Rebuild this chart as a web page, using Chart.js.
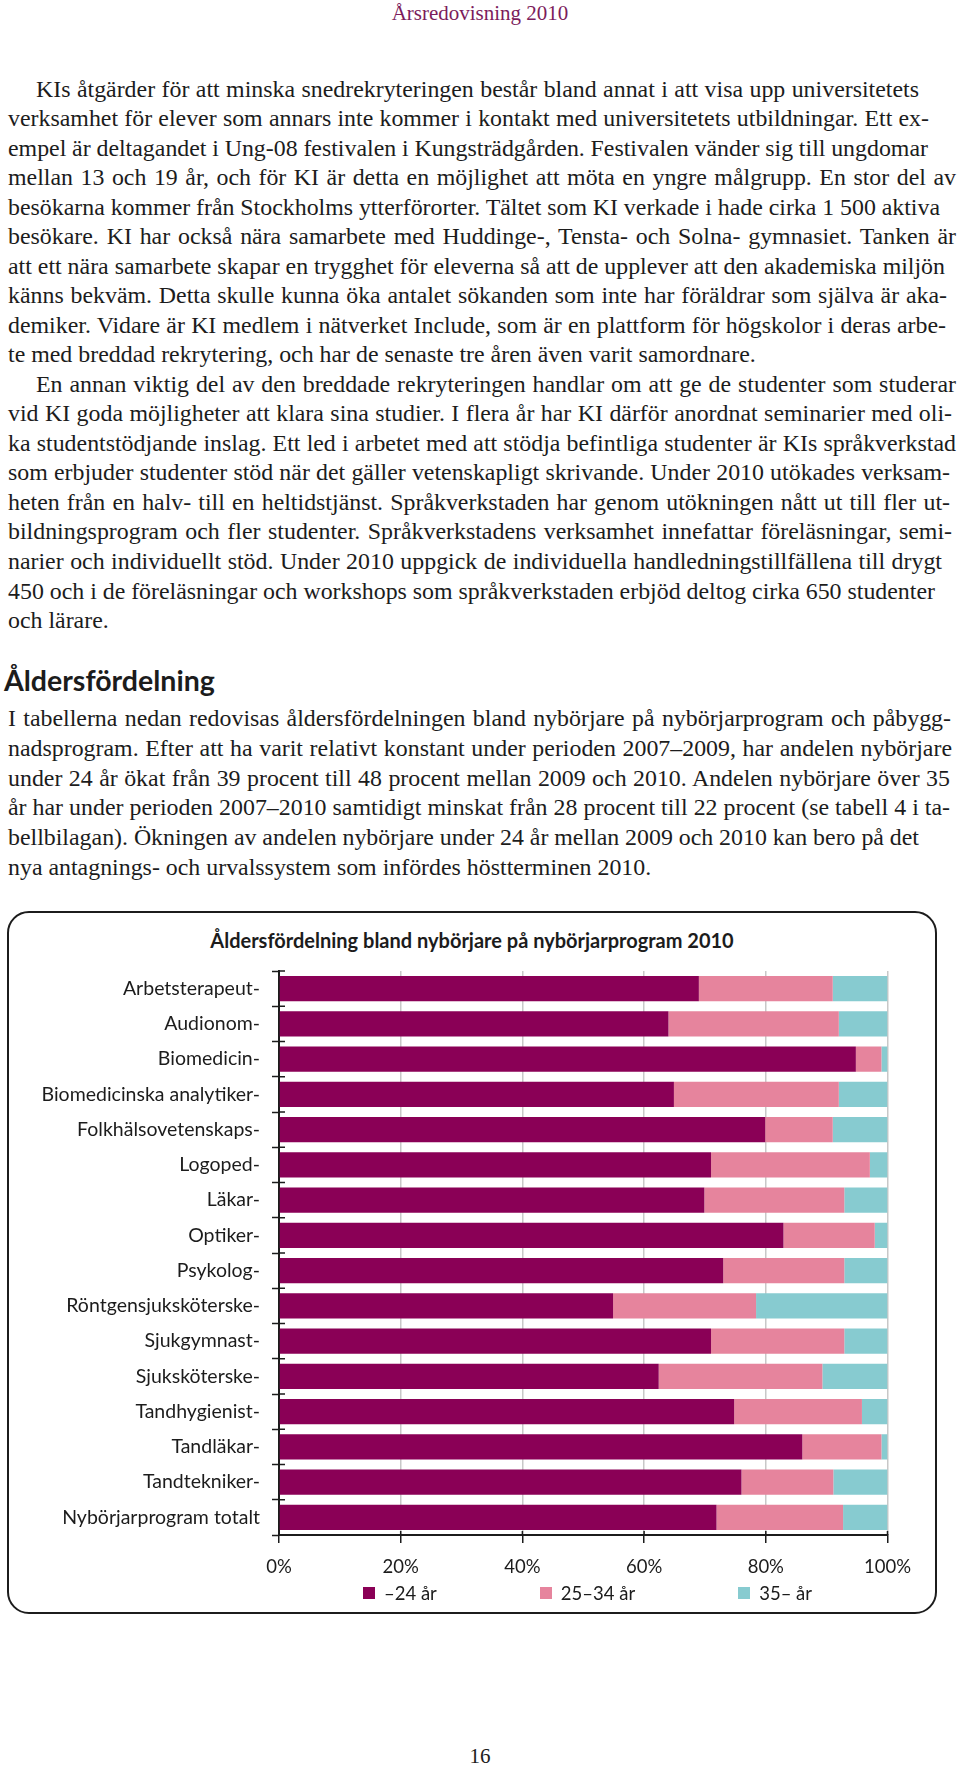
<!DOCTYPE html>
<html lang="sv">
<head>
<meta charset="utf-8">
<title>Årsredovisning 2010 – Åldersfördelning</title>
<script src="https://cdn.jsdelivr.net/npm/chart.js@4.4.1/dist/chart.umd.min.js"></script>
<style>
  html, body { margin: 0; padding: 0; background: #fff; }
  body { position: relative; width: 960px; height: 1769px; overflow: hidden;
         font-family: "Liberation Serif", "Times New Roman", serif; color: #1c1c1c; }
  #header { position: absolute; left: 0; top: 0px; width: 960px; text-align: center;
            color: #7c1c5c; font-size: 21px; line-height: 27px; white-space: nowrap; }
  .line { position: absolute; white-space: nowrap; font-size: 21px; line-height: 30px; }
  #heading { position: absolute; left: 4px; top: 664px; font-family: Lato, sans-serif;
             font-weight: bold; font-size: 24px; line-height: 32px; white-space: nowrap; }
  #box { position: absolute; left: 7px; top: 911px; width: 930px; height: 703px;
         box-sizing: border-box; border: 2px solid #1c1c1c; border-radius: 22px; }
  #chart-title { position: absolute; left: 0; top: 15px; width: 926px; text-align: center;
                 font-family: Lato, sans-serif; font-weight: bold; font-size: 20px; line-height: 24px;
                 white-space: nowrap; }
  #chart { position: absolute; left: 0; top: 0; }
  #legend { position: absolute; top: 1582px; left: 363px; display: flex; gap: 103px;
            font-family: Lato, sans-serif; font-size: 18.5px; line-height: 22px; color: #1c1c1c; }
  #legend .item { display: flex; align-items: center; white-space: nowrap; }
  #legend .swatch { width: 12px; height: 12px; margin-right: 9px; }
  #pagenr { position: absolute; left: 0; top: 1743px; width: 960px; text-align: center;
            font-size: 21px; line-height: 27px; }
</style>
</head>
<body>
<div id="header">Årsredovisning 2010</div>
<div id="text"></div>
<div id="heading">Åldersfördelning</div>
<div id="box">
  <div id="chart-title">Åldersfördelning bland nybörjare på nybörjarprogram 2010</div>
  <canvas id="chart" width="926" height="699"></canvas>
</div>
<div id="legend"></div>
<div id="pagenr">16</div>

<script>
// Data (percent of new students per programme)
var programs = [
    'Arbetsterapeut-', 'Audionom-', 'Biomedicin-', 'Biomedicinska analytiker-',
    'Folkhälsovetenskaps-', 'Logoped-', 'Läkar-', 'Optiker-', 'Psykolog-',
    'Röntgensjuksköterske-', 'Sjukgymnast-', 'Sjuksköterske-', 'Tandhygienist-',
    'Tandläkar-', 'Tandtekniker-', 'Nybörjarprogram totalt'
];
var under24 =   [69.0, 64.0, 94.8, 64.9, 79.9, 71.0, 69.9, 82.9, 73.0, 54.9, 71.0, 62.4, 74.8, 86.0, 76.0, 71.9];
var age25to34 = [22.0, 28.0,  4.2, 27.1, 11.1, 26.1, 23.0, 15.0, 19.9, 23.5, 21.9, 26.9, 21.0, 13.0, 15.1, 20.8];
var over35 =    [ 9.0,  8.0,  1.0,  8.0,  9.0,  2.9,  7.1,  2.1,  7.1, 21.6,  7.1, 10.7,  4.2,  1.0,  8.9,  7.3];
var seriesLabels = ['–24 år', '25–34 år', '35– år'];
var xTicks = [0, 20, 40, 60, 80, 100];

var colors = {
    under24: '#8a0056',
    age25to34: '#e6849d',
    over35: '#87cbd0'
};

// Page text, one entry per printed line
var para1 = [
    'KIs åtgärder för att minska snedrekryteringen består bland annat i att visa upp universitetets',
    'verksamhet för elever som annars inte kommer i kontakt med universitetets utbildningar. Ett ex-',
    'empel är deltagandet i Ung-08 festivalen i Kungsträdgården. Festivalen vänder sig till ungdomar',
    'mellan 13 och 19 år, och för KI är detta en möjlighet att möta en yngre målgrupp. En stor del av',
    'besökarna kommer från Stockholms ytterförorter. Tältet som KI verkade i hade cirka 1 500 aktiva',
    'besökare. KI har också nära samarbete med Huddinge-, Tensta- och Solna- gymnasiet. Tanken är',
    'att ett nära samarbete skapar en trygghet för eleverna så att de upplever att den akademiska miljön',
    'känns bekväm. Detta skulle kunna öka antalet sökanden som inte har föräldrar som själva är aka-',
    'demiker. Vidare är KI medlem i nätverket Include, som är en plattform för högskolor i deras arbe-',
    'te med breddad rekrytering, och har de senaste tre åren även varit samordnare.'
];
var para2 = [
    'En annan viktig del av den breddade rekryteringen handlar om att ge de studenter som studerar',
    'vid KI goda möjligheter att klara sina studier. I flera år har KI därför anordnat seminarier med oli-',
    'ka studentstödjande inslag. Ett led i arbetet med att stödja befintliga studenter är KIs språkverkstad',
    'som erbjuder studenter stöd när det gäller vetenskapligt skrivande. Under 2010 utökades verksam-',
    'heten från en halv- till en heltidstjänst. Språkverkstaden har genom utökningen nått ut till fler ut-',
    'bildningsprogram och fler studenter. Språkverkstadens verksamhet innefattar föreläsningar, semi-',
    'narier och individuellt stöd. Under 2010 uppgick de individuella handledningstillfällena till drygt',
    '450 och i de föreläsningar och workshops som språkverkstaden erbjöd deltog cirka 650 studenter',
    'och lärare.'
];
var para3 = [
    'I tabellerna nedan redovisas åldersfördelningen bland nybörjare på nybörjarprogram och påbygg-',
    'nadsprogram. Efter att ha varit relativt konstant under perioden 2007–2009, har andelen nybörjare',
    'under 24 år ökat från 39 procent till 48 procent mellan 2009 och 2010. Andelen nybörjare över 35',
    'år har under perioden 2007–2010 samtidigt minskat från 28 procent till 22 procent (se tabell 4 i ta-',
    'bellbilagan). Ökningen av andelen nybörjare under 24 år mellan 2009 och 2010 kan bero på det',
    'nya antagnings- och urvalssystem som infördes höstterminen 2010.'
];
// right edge of each printed line (null = last line, not stretched)
var rights1 = [919, 929, 928, 956, 940, 956, 945, 947, 946, null];
var rights2 = [956, 952, 956, 950, 950, 952, 942, 935, null];
var rights3 = [951, 952, 950, 950, 919, null];

var textBox = document.getElementById('text');
var margin = 8;

// pick a font size so that an unstretched line gets its printed width
function fitBodySize() {
    var probe = document.createElement('div');
    probe.className = 'line';
    probe.textContent = para1[9];
    textBox.appendChild(probe);
    var w = probe.getBoundingClientRect().width;
    textBox.removeChild(probe);
    return 21 * 748 / w;
}
var bodySize = fitBodySize();

function placeLines(lines, rights, firstLeft, firstCenter, step) {
    lines.forEach(function(t, i) {
        var el = document.createElement('div');
        var x = i === 0 ? firstLeft : margin;
        el.className = 'line';
        el.textContent = t;
        el.style.fontSize = bodySize + 'px';
        el.style.left = x + 'px';
        el.style.top = (firstCenter + i * step - 17) + 'px';
        textBox.appendChild(el);
        if (rights[i]) {
            var spaces = t.split(' ').length - 1;
            var w = el.getBoundingClientRect().width;
            el.style.wordSpacing = ((rights[i] - x - w) / spaces) + 'px';
        }
    });
}
placeLines(para1, rights1, 36, 90.5, 29.53);
placeLines(para2, rights2, 36, 90.5 + 10 * 29.53, 29.53);
placeLines(para3, rights3, margin, 720, 29.8);

// heading sized to the printed width
function fitWidth(el, target) {
    var size = parseFloat(getComputedStyle(el).fontSize);
    var w = el.getBoundingClientRect().width;
    el.style.fontSize = (size * target / w) + 'px';
}
document.getElementById('heading').style.display = 'inline-block';
fitWidth(document.getElementById('heading'), 211);

Chart.defaults.font.family = 'Lato, sans-serif';
Chart.defaults.color = '#1c1c1c';

// small tick marks across the axis lines
var crossTicks = {
    id: 'crossTicks',
    afterDraw: function(chart) {
        var ctx = chart.ctx;
        var area = chart.chartArea;
        var n = chart.data.labels.length;
        var step = (area.bottom - area.top) / n;
        ctx.save();
        ctx.strokeStyle = '#1c1c1c';
        ctx.lineWidth = 1.5;
        ctx.beginPath();
        for (var i = 0; i <= n; i++) {
            var y = area.top + i * step;
            ctx.moveTo(area.left, y);
            ctx.lineTo(area.left + 6, y);
        }
        chart.scales.x.ticks.forEach(function(t) {
            var x = chart.scales.x.getPixelForValue(t.value);
            ctx.moveTo(x, area.bottom);
            ctx.lineTo(x, area.bottom - 4);
        });
        ctx.stroke();
        ctx.restore();
    }
};

var chart = new Chart(document.getElementById('chart'), {
    type: 'bar',
    data: {
        labels: programs,
        datasets: [
            { label: seriesLabels[0], data: under24, backgroundColor: colors.under24 },
            { label: seriesLabels[1], data: age25to34, backgroundColor: colors.age25to34 },
            { label: seriesLabels[2], data: over35, backgroundColor: colors.over35 }
        ]
    },
    options: {
        indexAxis: 'y',
        responsive: false,
        animation: false,
        devicePixelRatio: 1,
        layout: { padding: { left: 0, right: 47.5, top: 58, bottom: 27 } },
        datasets: { bar: { barPercentage: 0.71, categoryPercentage: 1 } },
        scales: {
            x: {
                stacked: true,
                min: 0,
                max: 100,
                afterBuildTicks: function(scale) {
                    scale.ticks = xTicks.map(function(v) { return { value: v }; });
                },
                afterFit: function(scale) { scale.height = 50; },
                ticks: {
                    padding: 13,
                    font: { size: 18.5 },
                    callback: function(value) { return value + '%'; }
                },
                grid: {
                    color: '#c8c8c8',
                    lineWidth: 1.5,
                    tickColor: '#1c1c1c',
                    tickLength: 8,
                    tickWidth: 1.5
                },
                border: { color: '#1c1c1c', width: 2 }
            },
            y: {
                stacked: true,
                afterFit: function(scale) { scale.width = 270; },
                ticks: { padding: 12, autoSkip: false, font: { size: 19.5 } },
                grid: {
                    offset: true,
                    drawOnChartArea: false,
                    tickColor: '#1c1c1c',
                    tickLength: 7,
                    tickWidth: 1.5
                },
                border: { color: '#1c1c1c', width: 2 }
            }
        },
        plugins: {
            legend: { display: false },
            tooltip: { enabled: false },
            title: { display: false }
        }
    },
    plugins: [crossTicks]
});

// legend as html, built from the datasets
var legendBox = document.getElementById('legend');
chart.data.datasets.forEach(function(ds) {
    var item = document.createElement('div');
    item.className = 'item';
    var sw = document.createElement('span');
    sw.className = 'swatch';
    sw.style.background = ds.backgroundColor;
    var txt = document.createElement('span');
    txt.textContent = ds.label;
    item.appendChild(sw);
    item.appendChild(txt);
    legendBox.appendChild(item);
});
</script>
</body>
</html>
